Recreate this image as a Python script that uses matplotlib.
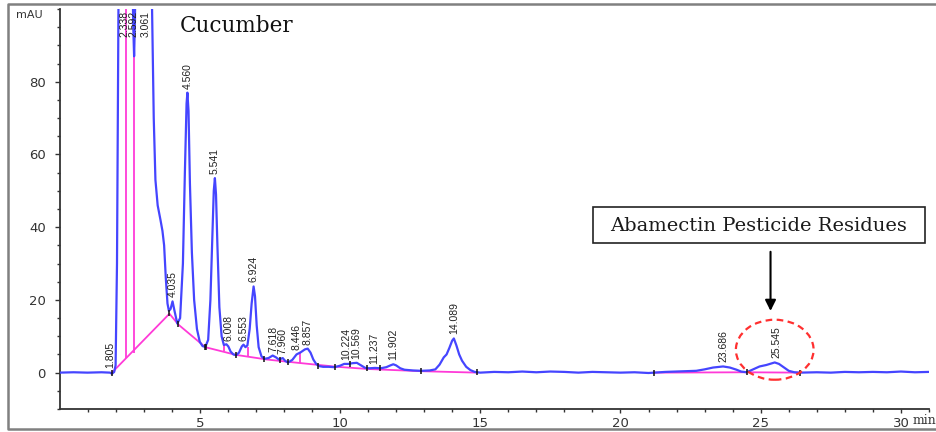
import numpy as np
import matplotlib
matplotlib.use("Agg")
import matplotlib.pyplot as plt
from matplotlib.patches import Rectangle, Ellipse
from matplotlib.lines import Line2D

# detector signal (min, mAU)
time = [0.0, 0.5, 1.0, 1.5, 1.8, 1.87, 1.95, 2.0, 2.05, 2.1, 2.14, 2.3, 2.5,
        2.6, 2.63, 2.66, 2.69, 2.72, 2.9, 3.2, 3.3, 3.36, 3.42, 3.5, 3.6,
        3.67, 3.73, 3.79, 3.85, 3.9, 3.96, 4.03, 4.1, 4.2, 4.3, 4.4, 4.47,
        4.53, 4.56, 4.6, 4.65, 4.72, 4.8, 4.9, 5.0, 5.1, 5.2, 5.3, 5.38,
        5.45, 5.5, 5.54, 5.58, 5.63, 5.7, 5.78, 5.86, 5.95, 6.02, 6.1, 6.2,
        6.3, 6.4, 6.5, 6.56, 6.63, 6.7, 6.78, 6.85, 6.92, 6.97, 7.03, 7.1,
        7.2, 7.3, 7.45, 7.6, 7.72, 7.82, 7.96, 8.05, 8.15, 8.3, 8.45, 8.6,
        8.75, 8.85, 8.95, 9.05, 9.15, 9.25, 9.4, 9.6, 9.8, 10.0, 10.15, 10.3,
        10.45, 10.6, 10.75, 10.9, 11.05, 11.25, 11.45, 11.65, 11.8, 11.9,
        12.0, 12.15, 12.3, 12.6, 12.9, 13.2, 13.4, 13.55, 13.7, 13.8, 13.9,
        14.0, 14.06, 14.15, 14.25, 14.35, 14.5, 14.65, 14.8, 15.0, 15.5,
        16.0, 16.5, 17.0, 17.5, 18.0, 18.5, 19.0, 19.5, 20.0, 20.5, 21.0,
        21.2, 21.6, 22.0, 22.4, 22.7, 23.0, 23.3, 23.66, 23.9, 24.14, 24.3,
        24.5, 24.7, 24.96, 25.2, 25.5, 25.65, 25.8, 26.0, 26.2, 26.4, 27.0,
        27.5, 28.0, 28.5, 29.0, 29.5, 30.0, 30.5, 31.0]
signal = [0.0, 0.1, 0.0, 0.1, 0.0, -0.3, 0.2, 2.0, 30.0, 100.0, 130.0, 140.0,
          135.0, 110.0, 95.0, 87.0, 97.0, 120.0, 140.0, 130.0, 100.0, 70.0,
          53.0, 46.0, 42.0, 39.0, 35.0, 26.0, 19.0, 17.0, 17.5, 19.6, 17.0,
          13.5, 15.0, 30.0, 55.0, 74.0, 77.0, 72.0, 52.0, 33.0, 20.0, 12.0,
          8.5, 7.3, 7.1, 9.0, 20.0, 38.0, 50.0, 53.5, 49.0, 35.0, 18.0, 10.0,
          7.6, 7.8, 7.2, 5.8, 5.0, 4.8, 5.5, 7.2, 7.7, 7.0, 7.5, 12.0, 19.0,
          23.7, 21.0, 13.0, 7.0, 4.5, 3.8, 4.0, 4.7, 4.2, 3.6, 4.0, 3.2, 2.8,
          3.5, 5.0, 5.6, 6.4, 6.6, 5.5, 3.6, 2.4, 1.8, 1.6, 1.6, 1.5, 1.9,
          2.4, 2.4, 2.6, 2.7, 2.0, 1.3, 1.2, 1.3, 1.2, 1.5, 2.0, 2.3, 2.0,
          1.2, 0.8, 0.6, 0.5, 0.6, 0.9, 2.2, 4.2, 5.0, 6.8, 8.8, 9.4, 7.5,
          5.0, 3.3, 1.6, 0.7, 0.2, 0.0, 0.2, 0.1, 0.3, 0.1, 0.3, 0.2, 0.0,
          0.2, 0.1, 0.0, 0.1, -0.1, 0.0, 0.2, 0.3, 0.4, 0.5, 0.9, 1.4, 1.7,
          1.4, 0.8, 0.3, 0.1, 0.8, 1.7, 2.1, 2.8, 2.4, 1.6, 0.5, 0.1, 0.0,
          0.1, 0.0, 0.2, 0.1, 0.2, 0.1, 0.3, 0.1, 0.2]

# integration baseline
base_t = [1.87, 3.92, 4.24, 5.2, 6.28, 7.4, 8.5, 9.9, 11.0, 12.88, 14.9]
base_v = [0.0, 16.2, 13.2, 7.0, 4.9, 3.6, 2.7, 1.6, 1.0, 0.4, 0.0]
base2_t = [21.2, 24.5, 26.4]
base2_v = [0.0, 0.1, 0.0]

# peak drop lines (time, bottom, top)
drop_t = [2.38, 2.66, 5.88, 6.72, 8.56]
drop_lo = [3.9, 5.4, 5.9, 4.6, 2.7]
drop_hi = [100.0, 100.0, 7.6, 7.0, 5.4]

# integration event marks
event_t = [1.87, 3.92, 4.24, 5.17, 5.23, 6.28, 7.3, 7.86, 8.14, 9.2, 9.84,
           10.37, 10.95, 11.44, 12.88, 14.9, 21.2, 24.5, 26.4]
event_v = [0.0, 16.5, 13.3, 7.1, 7.0, 4.9, 3.8, 3.4, 2.8, 1.9, 1.6, 2.4, 1.2,
           1.2, 0.5, 0.1, 0.0, 0.1, 0.0]

# retention time labels and apex heights
peak_rt = ["1.805", "2.338", "2.592", "3.061", "4.035", "4.560", "5.541",
           "6.008", "6.553", "6.924", "7.618", "7.960", "8.446", "8.857",
           "10.224", "10.569", "11.237", "11.902", "14.089", "23.686",
           "25.545"]
peak_h = [0.3, 100, 100, 100, 19.6, 77.0, 53.5, 7.7, 7.7, 23.7, 4.7, 4.0,
          5.0, 6.6, 2.4, 2.7, 1.3, 2.3, 9.4, 1.7, 2.8]

W, H = 937, 432
fig = plt.figure(figsize=(W / 100, H / 100), dpi=100)
ax = fig.add_axes([59.5 / W, 1 - 409 / H, (929 - 59.5) / W, (409 - 9) / H])

blue = "#4545ff"
pink = "#ff3ad8"

ax.plot(time, signal, color=blue, lw=1.6, zorder=3)
ax.plot(base_t, base_v, color=pink, lw=1.3, zorder=2)
ax.plot(base2_t, base2_v, color=pink, lw=1.3, zorder=2)
ax.vlines(drop_t, drop_lo, drop_hi, color=pink, lw=1.3, zorder=2)
ax.plot(event_t, event_v, ls="none", marker="|", ms=5, mew=1.1,
        color="#111111", zorder=4)

for rt, h in zip(peak_rt, peak_h):
    x = float(rt)
    if rt == "2.338":
        x -= 0.03
    elif rt == "2.592":
        x += 0.03
    if h >= 100:
        ax.text(x, 99.5, rt, rotation=90, ha="center", va="top",
                fontsize=7.5, family="Liberation Sans", color="#222222", zorder=5)
    else:
        ax.text(x, h + 1.1, rt, rotation=90, ha="center", va="bottom",
                fontsize=7.5, family="Liberation Sans", color="#222222", zorder=5)

ax.set_xlim(0, 31)
ax.set_ylim(-10, 100)
ax.set_xticks([5, 10, 15, 20, 25, 30])
ax.set_xticks(np.arange(1, 32, 1), minor=True)
ax.set_yticks([0, 20, 40, 60, 80])
ax.set_yticks(np.arange(-10, 101, 5), minor=True)

for s in ["top", "right"]:
    ax.spines[s].set_visible(False)
for s in ["left", "bottom"]:
    ax.spines[s].set_color("#333333")
    ax.spines[s].set_linewidth(1.3)

ax.tick_params(axis="both", which="major", direction="out", color="#333333",
               labelcolor="#333333", labelsize=9.5)
ax.tick_params(axis="y", which="major", length=3.8, width=1.0, pad=6.0)
ax.tick_params(axis="y", which="minor", length=2.2, width=1.0, color="#333333")
ax.tick_params(axis="x", which="major", length=3.2, width=1.0, pad=2.5)
ax.tick_params(axis="x", which="minor", length=2.0, width=1.0, color="#333333")

# dashed circle and arrow around the abamectin peak
ax.add_patch(Ellipse((25.5, 6.3), 2.77, 16.5, fill=False, ec="#ff3030",
                     lw=1.6, ls=(0, (3, 2)), zorder=6))
ax.annotate("", xy=(25.35, 16.2), xytext=(25.35, 34.0),
            arrowprops=dict(arrowstyle="-|>", color="black", lw=1.5,
                            mutation_scale=16))

fig.patches.append(Rectangle((593 / W, 1 - 243 / H), 332 / W, 36 / H,
                             transform=fig.transFigure, fill=False,
                             ec="#222222", lw=1.2))
fig.text(759 / W, 1 - 226 / H, "Abamectin Pesticide Residues",
         ha="center", va="center", fontsize=14, family="DejaVu Serif",
         color="#1a1a1a")
fig.text(180 / W, 1 - 32 / H, "Cucumber", ha="left", va="baseline",
         fontsize=15.5, family="DejaVu Serif", color="#111111")
fig.text(29 / W, 1 - 15 / H, "mAU", ha="center", va="center",
         fontsize=8, color="#333333")
fig.text(924 / W, 1 - 421 / H, "min", ha="center", va="center",
         fontsize=9, family="DejaVu Serif", color="#333333")

# outer frame of the picture (open on the right side)
fx = [W, 8, 8, W]
fy = [H - 4, H - 4, H - 429, H - 429]
fig.lines.append(Line2D([v / W for v in fx], [v / H for v in fy],
                        transform=fig.transFigure, color="#808080", lw=1.8))

fig.savefig("out.png", dpi=100)
